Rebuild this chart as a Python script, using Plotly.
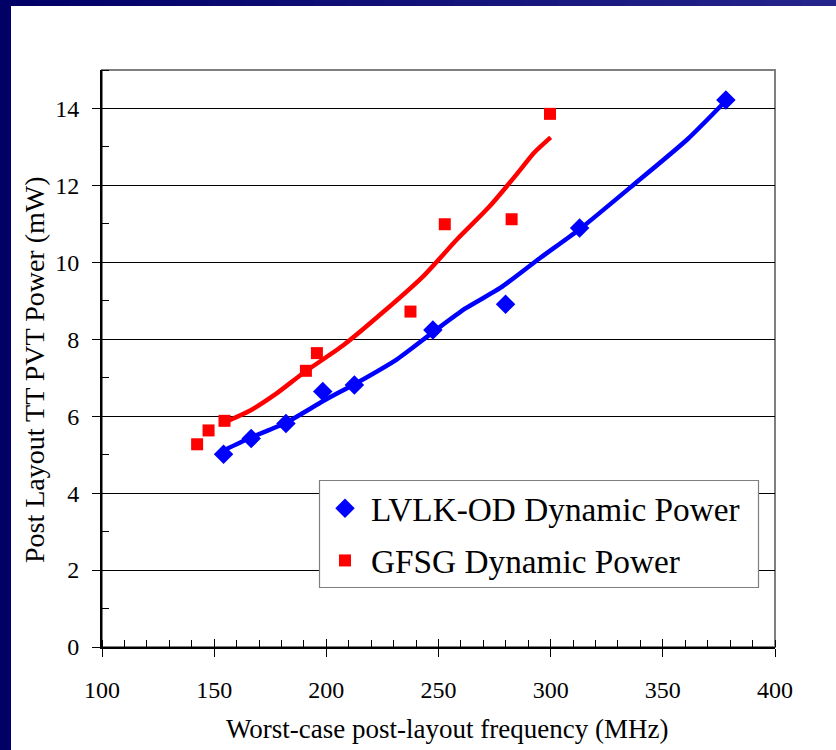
import plotly.graph_objects as go

# ---- data ----
lvlk_freq = [154.2, 166.5, 182.0, 198.4, 212.5, 247.5, 279.9, 312.9, 378.1]
lvlk_power = [5.01, 5.42, 5.81, 6.64, 6.81, 8.24, 8.91, 10.89, 14.22]

gfsg_freq = [142.4, 147.5, 154.6, 190.9, 195.8, 237.5, 252.8, 282.6, 299.7]
gfsg_power = [5.27, 5.63, 5.88, 7.18, 7.64, 8.72, 10.99, 11.12, 13.86]

# trend lines as drawn in the reference
lvlk_trend_x = [154.2, 166.1, 182.0, 198.8, 213.7, 231.5, 247.9, 262.0, 277.7, 295.0, 312.9, 337.2, 361.0, 378.1]
lvlk_trend_y = [5.11, 5.44, 5.83, 6.40, 6.87, 7.48, 8.20, 8.80, 9.34, 10.10, 10.86, 12.03, 13.20, 14.20]

gfsg_trend_x = [154.2, 166.1, 178.0, 189.9, 207.7, 225.6, 243.4, 258.3, 272.4, 285.0, 292.6, 300.0]
gfsg_trend_y = [5.83, 6.15, 6.60, 7.13, 7.85, 8.72, 9.65, 10.60, 11.43, 12.30, 12.85, 13.25]

x_ticks = [100, 150, 200, 250, 300, 350, 400]
y_ticks = [0, 2, 4, 6, 8, 10, 12, 14]

x_title = "Worst-case post-layout frequency (MHz)"
y_title = "Post Layout TT PVT Power (mW)"

FONT = "Liberation Serif"
W, H = 836, 750
L, R, T, B = 102, 775, 70, 647

def px(x):
    return (x - L) / (R - L)

def py(y):
    return (B - y) / (B - T)

fig = go.Figure()

fig.add_trace(go.Scatter(x=lvlk_trend_x, y=lvlk_trend_y, mode="lines",
                         line=dict(color="#0000FF", width=4.5, shape="spline", smoothing=0.6),
                         showlegend=False, hoverinfo="skip"))
fig.add_trace(go.Scatter(x=gfsg_trend_x, y=gfsg_trend_y, mode="lines",
                         line=dict(color="#FF0000", width=4.5, shape="spline", smoothing=0.6),
                         showlegend=False, hoverinfo="skip"))
fig.add_trace(go.Scatter(x=lvlk_freq, y=lvlk_power, mode="markers",
                         name="LVLK-OD Dynamic Power", legendgroup="a",
                         marker=dict(symbol="diamond", size=15, color="#0000FF")))
fig.add_trace(go.Scatter(x=gfsg_freq, y=gfsg_power, mode="markers",
                         name="GFSG Dynamic Power", legendgroup="b",
                         marker=dict(symbol="square", size=12, color="#FF0000")))
# dummy trace for overlay axis (inside part of crossing x ticks)
fig.add_trace(go.Scatter(x=[None], y=[None], xaxis="x2", showlegend=False,
                         hoverinfo="skip"))

shapes = []
# plot-area border (gray, Excel style)
shapes.append(dict(type="rect", xref="paper", yref="paper", x0=0, x1=1, y0=0, y1=1,
                   line=dict(color="#7f7f7f", width=2), layer="below"))
# legend frame box (white, gray border)
shapes.append(dict(type="rect", xref="paper", yref="paper",
                   x0=px(319.5), x1=px(758.5), y0=py(587.5), y1=py(480.5),
                   line=dict(color="#7f7f7f", width=1.2), fillcolor="white", layer="above"))
# slide frame: navy left band and gradient top band
shapes.append(dict(type="rect", xref="paper", yref="paper",
                   x0=px(0), x1=px(11), y0=py(0), y1=py(H),
                   line=dict(width=0), fillcolor="#000066", layer="above"))
n = 24
for i in range(n):
    t = i / (n - 1)
    r = int(t * 0x24)
    g = int(t * 0x24)
    b = int(0x66 + t * (0x8a - 0x66))
    shapes.append(dict(type="rect", xref="paper", yref="paper",
                       x0=px(W * i / n), x1=px(W * (i + 1) / n + 1),
                       y0=py(0), y1=py(6),
                       line=dict(width=0), fillcolor=f"rgb({r},{g},{b})", layer="above"))

fig.update_layout(
    width=W, height=H,
    margin=dict(l=L, r=W - R, t=T, b=H - B, autoexpand=False),
    paper_bgcolor="white", plot_bgcolor="white",
    font=dict(family=FONT, color="black", size=24),
    showlegend=True,
    legend=dict(x=px(319), y=py(480), xanchor="left", yanchor="top",
                bgcolor="rgba(0,0,0,0)", borderwidth=0,
                font=dict(family=FONT, size=33.3, color="black"),
                traceorder="grouped", tracegroupgap=6,
                itemwidth=42),
    xaxis=dict(range=[100, 400], tickvals=x_ticks, ticks="outside", ticklen=8,
               tickwidth=1, tickcolor="black", showline=True, linecolor="black",
               linewidth=2, showgrid=False, zeroline=False, automargin=False,
               tickfont=dict(family=FONT, size=24), ticklabelstandoff=12,
               minor=dict(dtick=10, tick0=100, ticks="inside", ticklen=7,
                          tickcolor="black", tickwidth=1, showgrid=False)),
    xaxis2=dict(range=[100, 400], overlaying="x", side="bottom", tickvals=x_ticks,
                ticks="inside", ticklen=8, tickwidth=1, tickcolor="black",
                showticklabels=False, showgrid=False, zeroline=False, showline=False,
                automargin=False),
    yaxis=dict(range=[0, 15], tickvals=y_ticks, ticks="outside", ticklen=8,
               tickwidth=1, tickcolor="black", showline=True, linecolor="black",
               linewidth=2, showgrid=True, gridcolor="black", gridwidth=1,
               zeroline=False, tickfont=dict(family=FONT, size=24), automargin=False,
               ticklabelstandoff=8,
               minor=dict(dtick=1, tick0=1, ticks="inside", ticklen=7,
                          tickcolor="black", tickwidth=1, showgrid=False)),
    annotations=[
        dict(text=x_title, xref="paper", yref="paper", x=px(447), y=py(729),
             xanchor="center", yanchor="middle", showarrow=False,
             font=dict(family=FONT, size=27, color="black")),
        dict(text=y_title, xref="paper", yref="paper", x=px(34), y=py(370),
             xanchor="center", yanchor="middle", showarrow=False, textangle=-90,
             font=dict(family=FONT, size=28, color="black")),
    ],
    shapes=shapes,
)

fig.write_html("out.html")
